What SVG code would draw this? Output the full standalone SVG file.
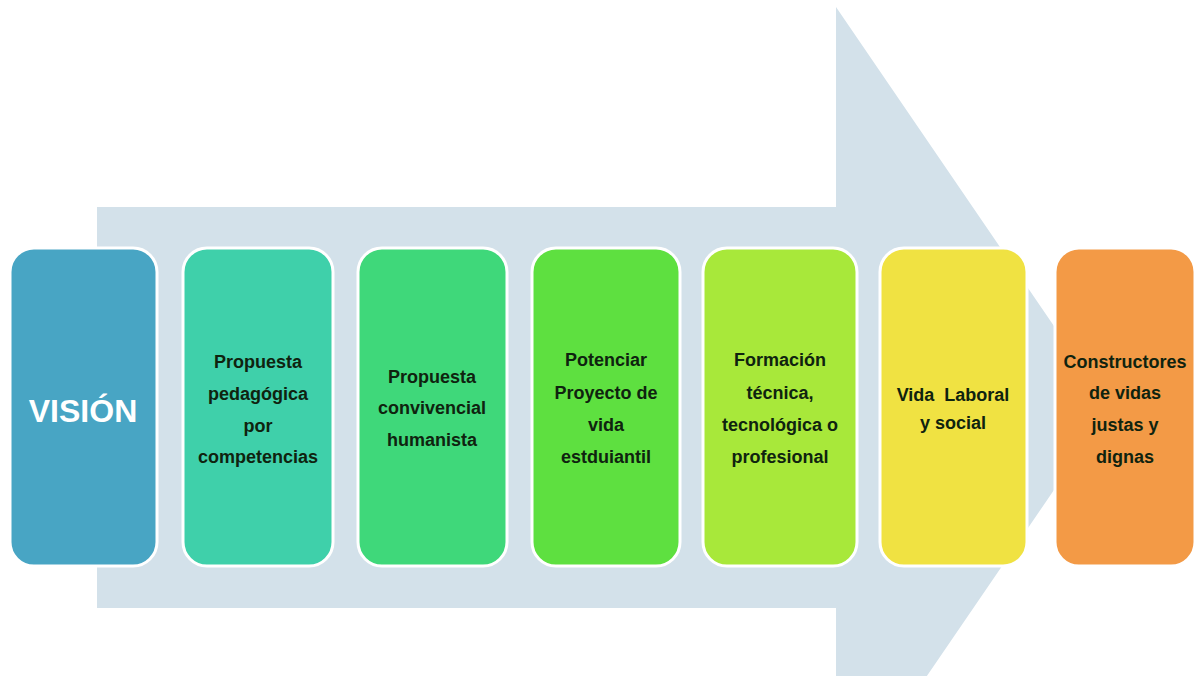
<svg xmlns="http://www.w3.org/2000/svg" width="1196" height="676" viewBox="0 0 1196 676">
<style>
.box{stroke:#ffffff;stroke-width:3}
.t{font-family:"Liberation Sans",Arial,sans-serif;font-weight:bold;font-size:18px;fill:#0f230f;text-anchor:middle}
.v{font-family:"Liberation Sans",Arial,sans-serif;font-weight:bold;font-size:32px;fill:#ffffff;text-anchor:middle}
</style>
<rect width="1196" height="676" fill="#ffffff"/>
<g id="arrow">
<polygon points="97,207 836,207 836,7 1110,408 836,809 836,608 97,608" fill="#d3e1ea"/>
</g>
<g id="connectors"></g>
<g id="n1">
<rect class="box" x="10" y="248" width="147" height="318" rx="24" fill="#48a5c4"/>
<text class="v" x="83" y="422">VISIÓN</text>
</g>
<g id="n2">
<rect class="box" x="183" y="248" width="150" height="318" rx="24" fill="#3fd0aa"/>
<text class="t" x="258" y="368">Propuesta</text>
<text class="t" x="258" y="400">pedagógica</text>
<text class="t" x="258" y="432">por</text>
<text class="t" x="258" y="463">competencias</text>
</g>
<g id="n3">
<rect class="box" x="358" y="248" width="149" height="318" rx="24" fill="#3fd87a"/>
<text class="t" x="432" y="383">Propuesta</text>
<text class="t" x="432" y="414">convivencial</text>
<text class="t" x="432" y="446">humanista</text>
</g>
<g id="n4">
<rect class="box" x="532" y="248" width="148" height="318" rx="24" fill="#5ee040"/>
<text class="t" x="606" y="366">Potenciar</text>
<text class="t" x="606" y="399">Proyecto de</text>
<text class="t" x="606" y="431">vida</text>
<text class="t" x="606" y="463">estduiantil</text>
</g>
<g id="n5">
<rect class="box" x="703" y="248" width="154" height="318" rx="24" fill="#a8e83a"/>
<text class="t" x="780" y="366">Formación</text>
<text class="t" x="780" y="399">técnica,</text>
<text class="t" x="780" y="431">tecnológica o</text>
<text class="t" x="780" y="463">profesional</text>
</g>
<g id="n6">
<rect class="box" x="880" y="248" width="147" height="318" rx="24" fill="#f0e242"/>
<text class="t" x="953" y="401" xml:space="preserve">Vida  Laboral</text>
<text class="t" x="953" y="429">y social</text>
</g>
<g id="n7">
<rect class="box" x="1055" y="248" width="140" height="318" rx="24" fill="#f39a46"/>
<text class="t" x="1125" y="368">Constructores</text>
<text class="t" x="1125" y="399">de vidas</text>
<text class="t" x="1125" y="431">justas y</text>
<text class="t" x="1125" y="463">dignas</text>
</g>
</svg>
